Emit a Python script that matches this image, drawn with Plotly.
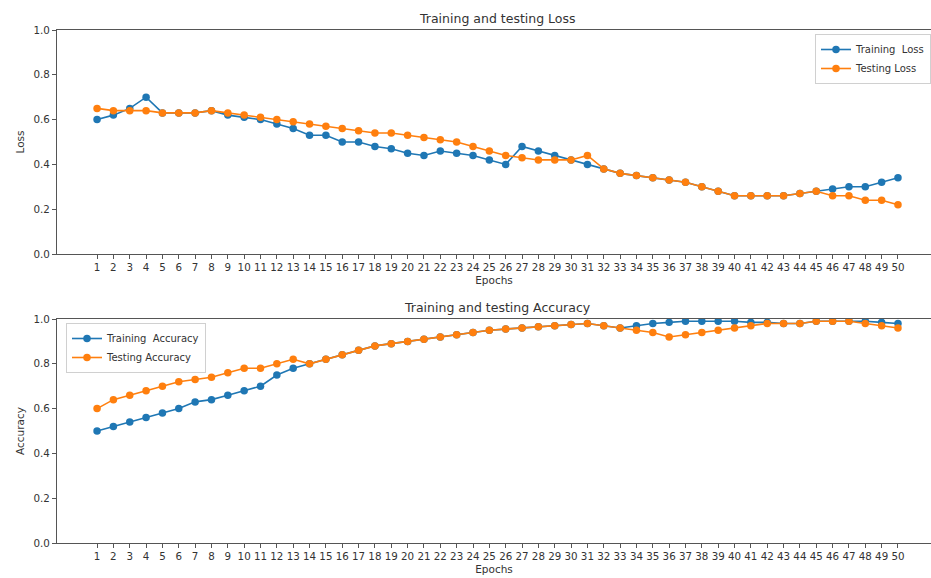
import plotly.graph_objects as go
from plotly.subplots import make_subplots

epochs = list(range(1, 51))

train_loss = [0.60, 0.62, 0.65, 0.70, 0.63, 0.63, 0.63, 0.64, 0.62, 0.61,
              0.60, 0.58, 0.56, 0.53, 0.53, 0.50, 0.50, 0.48, 0.47, 0.45,
              0.44, 0.46, 0.45, 0.44, 0.42, 0.40, 0.48, 0.46, 0.44, 0.42,
              0.40, 0.38, 0.36, 0.35, 0.34, 0.33, 0.32, 0.30, 0.28, 0.26,
              0.26, 0.26, 0.26, 0.27, 0.28, 0.29, 0.30, 0.30, 0.32, 0.34]
test_loss = [0.65, 0.64, 0.64, 0.64, 0.63, 0.63, 0.63, 0.64, 0.63, 0.62,
             0.61, 0.60, 0.59, 0.58, 0.57, 0.56, 0.55, 0.54, 0.54, 0.53,
             0.52, 0.51, 0.50, 0.48, 0.46, 0.44, 0.43, 0.42, 0.42, 0.42,
             0.44, 0.38, 0.36, 0.35, 0.34, 0.33, 0.32, 0.30, 0.28, 0.26,
             0.26, 0.26, 0.26, 0.27, 0.28, 0.26, 0.26, 0.24, 0.24, 0.22]
train_acc = [0.50, 0.52, 0.54, 0.56, 0.58, 0.60, 0.63, 0.64, 0.66, 0.68,
             0.70, 0.75, 0.78, 0.80, 0.82, 0.84, 0.86, 0.88, 0.89, 0.90,
             0.91, 0.92, 0.93, 0.94, 0.95, 0.955, 0.96, 0.965, 0.97, 0.975,
             0.98, 0.97, 0.96, 0.97, 0.98, 0.985, 0.99, 0.99, 0.99, 0.99,
             0.985, 0.985, 0.98, 0.98, 0.99, 0.99, 0.99, 0.99, 0.985, 0.98]
test_acc = [0.60, 0.64, 0.66, 0.68, 0.70, 0.72, 0.73, 0.74, 0.76, 0.78,
            0.78, 0.80, 0.82, 0.80, 0.82, 0.84, 0.86, 0.88, 0.89, 0.90,
            0.91, 0.92, 0.93, 0.94, 0.95, 0.955, 0.96, 0.965, 0.97, 0.975,
            0.98, 0.97, 0.96, 0.95, 0.94, 0.92, 0.93, 0.94, 0.95, 0.96,
            0.97, 0.98, 0.98, 0.98, 0.99, 0.99, 0.99, 0.98, 0.97, 0.96]

tick_labels = [str(e) for e in epochs]
y_ticks = [0.0, 0.2, 0.4, 0.6, 0.8, 1.0]

BLUE = "#1f77b4"
ORANGE = "#ff7f0e"
FONT = "DejaVu Sans"
TXT = "#333333"
LINE = "#555555"
W, H = 931, 578

fig = make_subplots(rows=2, cols=1)

def add(y, name, color, row, legend):
    fig.add_trace(go.Scatter(x=epochs, y=y, name=name, mode="lines+markers",
                             line=dict(color=color, width=1.6),
                             marker=dict(color=color, size=7.5),
                             legend=legend, showlegend=True), row=row, col=1)

add(train_loss, "Training  Loss", BLUE, 1, "legend")
add(test_loss, "Testing Loss", ORANGE, 1, "legend")
add(train_acc, "Training  Accuracy", BLUE, 2, "legend2")
add(test_acc, "Testing Accuracy", ORANGE, 2, "legend2")

xdom = [57 / W, 1.0]
top_dom = [1 - 254 / H, 1 - 30 / H]
bot_dom = [1 - 543 / H, 1 - 319 / H]

axis_common = dict(showline=True, linecolor=LINE, linewidth=1.2, ticks="outside",
                   ticklen=4, tickcolor=LINE, showgrid=False, zeroline=False,
                   automargin=False,
                   tickfont=dict(family=FONT, size=10.3, color=TXT))

for i, (dom, ylabel) in enumerate([(top_dom, "Loss"), (bot_dom, "Accuracy")], start=1):
    fig.update_xaxes(domain=xdom, range=[-1.45, 52.02], tickmode="array",
                     tickvals=epochs, ticktext=tick_labels, tickangle=0,
                     mirror=True, title=dict(text="Epochs", font=dict(family=FONT, size=10.5, color=TXT), standoff=4),
                     **axis_common, row=i, col=1)
    fig.update_yaxes(domain=dom, range=[0, 1], tickmode="array", tickvals=y_ticks,
                     ticktext=[f"{v:.1f}" for v in y_ticks], mirror=False,
                     title=dict(text=ylabel, font=dict(family=FONT, size=10.5, color=TXT), standoff=6),
                     **axis_common, row=i, col=1)

annotations = [
    dict(text="Training and testing Loss", x=497 / W, y=1 - 18 / H, xref="paper", yref="paper",
         showarrow=False, font=dict(family=FONT, size=12.5, color=TXT), xanchor="center", yanchor="middle"),
    dict(text="Training and testing Accuracy", x=497 / W, y=1 - 307 / H, xref="paper", yref="paper",
         showarrow=False, font=dict(family=FONT, size=12.5, color=TXT), xanchor="center", yanchor="middle"),
]

legend_style = dict(bgcolor="rgba(255,255,255,0.8)", bordercolor="#d0d0d0", borderwidth=1,
                    font=dict(family=FONT, size=10, color=TXT), itemwidth=30,
                    tracegroupgap=0)

fig.update_layout(
    width=W, height=H, autosize=False,
    margin=dict(l=0, r=0, t=0, b=0, autoexpand=False),
    paper_bgcolor="white", plot_bgcolor="white",
    annotations=annotations,
    legend=dict(x=1.0, y=1 - 34 / H, xanchor="right", yanchor="top", **legend_style),
    legend2=dict(x=66 / W, y=1 - 323 / H, xanchor="left", yanchor="top", **legend_style),
    font=dict(family=FONT, color=TXT),
)

fig.write_html("out.html",
               config={"displayModeBar": False},
               post_script="document.body.style.margin='0';document.body.style.padding='0';"
                           "document.body.style.overflow='hidden';")
